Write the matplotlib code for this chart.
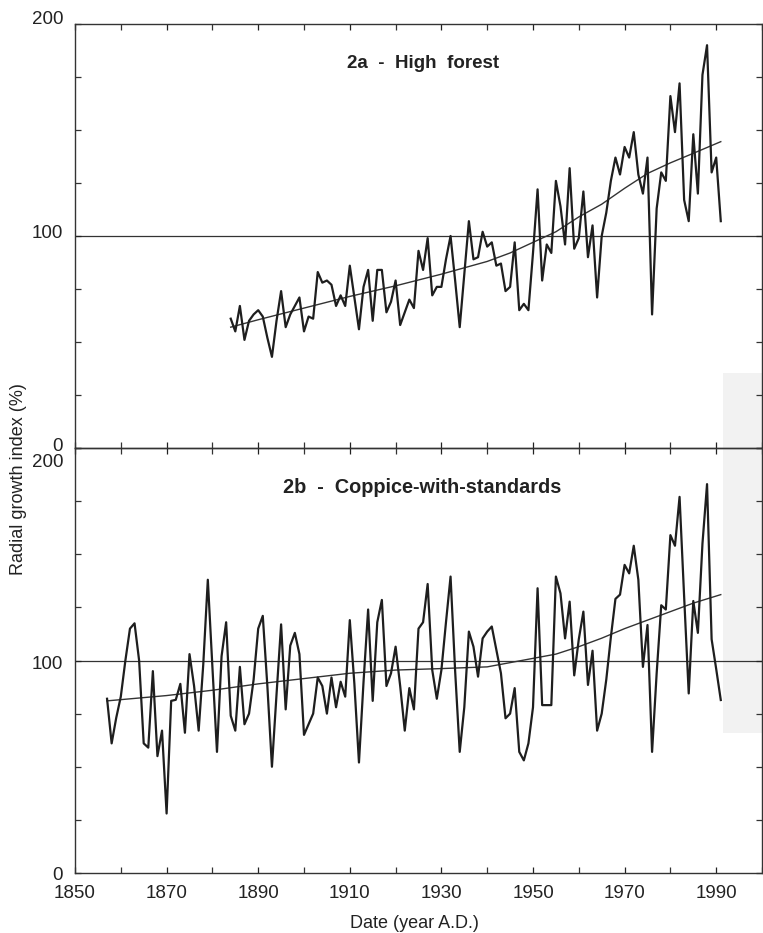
import matplotlib
matplotlib.use("Agg")
import matplotlib.pyplot as plt
from matplotlib.ticker import MultipleLocator, FixedLocator
from matplotlib.transforms import ScaledTranslation
from matplotlib.patches import Rectangle

plt.rcParams['font.family'] = ['Liberation Sans', 'DejaVu Sans']

# ---- Data: 2a High forest ----
hf_start = 1884
hf_values = [61, 55, 67, 51, 60, 63, 65, 62, 52, 43,
             60, 74, 57, 63, 67, 71, 55, 62, 61, 83,
             78, 79, 77, 67, 72, 67, 86, 71, 56, 76,
             84, 60, 84, 84, 64, 69, 79, 58, 64, 70,
             66, 93, 84, 99, 72, 76, 76, 89, 100, 79,
             57, 82, 107, 89, 90, 102, 95, 97, 86, 87,
             74, 76, 97, 65, 68, 65, 92, 122, 79, 96,
             92, 126, 114, 96, 132, 94, 99, 121, 90, 105,
             71, 100, 111, 126, 137, 129, 142, 137, 149, 129,
             120, 137, 63, 113, 130, 126, 166, 149, 172, 117,
             107, 148, 120, 176, 190, 130, 137, 107]
hf_years = list(range(hf_start, hf_start + len(hf_values)))
hf_trend_years = [1884, 1890, 1900, 1910, 1920, 1930, 1940, 1945, 1950,
                  1955, 1960, 1965, 1970, 1975, 1980, 1985, 1991]
hf_trend_values = [57, 60.5, 66, 71.5, 76.5, 82, 88, 92, 97,
                   102, 109, 115, 122.5, 129.5, 134.5, 139, 144.5]

# ---- Data: 2b Coppice-with-standards ----
cs_start = 1857
cs_values = [82, 61, 73, 83, 100, 115, 117.5, 100, 61, 59,
             95, 55, 67, 28, 81, 81.5, 89, 66, 103, 88,
             67, 98, 138, 97, 57, 102, 118, 74, 67, 97,
             70, 75, 91, 115, 121, 88, 50, 84, 117, 77,
             107, 113, 103, 65, 70, 75, 92, 88, 75, 92,
             78, 90, 83, 119, 89, 52, 90, 124, 81, 118,
             128.5, 88, 94, 106.5, 88, 67, 87, 77, 115, 118,
             136, 95.5, 82, 95.5, 118, 139.5, 95, 57, 78, 113.6,
             106.5, 92.4, 110.4, 113.6, 116, 105, 94, 72.8, 75, 87,
             57, 53, 61, 78, 134, 79, 79, 79, 139.5, 131.6,
             110.4, 127.7, 93, 110, 123, 88.5, 104.6, 67, 75, 91,
             111, 129, 131, 145, 141, 154, 138, 97, 116.7, 57,
             94, 126, 124, 159, 154, 177, 130, 84.5, 128, 113,
             155, 183, 110, 96, 81.4]
cs_years = list(range(cs_start, cs_start + len(cs_values)))
cs_trend_years = [1857, 1870, 1880, 1890, 1900, 1910, 1920, 1930, 1940,
                  1945, 1950, 1955, 1960, 1965, 1970, 1975, 1980, 1985, 1991]
cs_trend_values = [81, 83.5, 86, 89, 91.5, 94, 95.5, 96.2, 97,
                   99, 101, 103, 106.5, 110.5, 115, 119, 123, 127, 131]

x_major = list(range(1850, 1991, 20))
y_labels = [0, 100, 200]

W, H = 763, 933
fig = plt.figure(figsize=(W / 100, H / 100), dpi=100)

# faint gray scan patch at the right edge
fig.patches.append(Rectangle((723 / W, 1 - 733 / H), 40 / W, 360 / H,
                             transform=fig.transFigure, facecolor='#f2f2f2',
                             edgecolor='none', zorder=-5))

left = 75 / W
width = 687 / W
ax1 = fig.add_axes([left, 1 - 448 / H, width, 424 / H])
ax2 = fig.add_axes([left, 1 - 873 / H, width, 425 / H])

ink = '#1e1e1e'
for ax in (ax1, ax2):
    ax.set_facecolor('none')
    ax.set_xlim(1850, 2000)
    ax.set_ylim(0, 200)
    ax.axhline(100, color='#333333', lw=0.9, zorder=1)
    ax.xaxis.set_major_locator(FixedLocator(x_major))
    ax.xaxis.set_minor_locator(MultipleLocator(10))
    ax.yaxis.set_major_locator(FixedLocator(y_labels))
    ax.yaxis.set_minor_locator(MultipleLocator(25))
    ax.tick_params(which='both', direction='in', top=True, right=True,
                   length=4, width=0.9, color='#333333')
    ax.tick_params(axis='y', labelsize=13.5, pad=8.5, colors='#222222')
    ax.tick_params(axis='x', labelsize=13.5, pad=8.5, colors='#222222')
    for s in ax.spines.values():
        s.set_color('#333333')
        s.set_linewidth(1.0)

ax1.tick_params(axis='x', labelbottom=False)

ax1.plot(hf_years, hf_values, color=ink, lw=1.6, zorder=3)
ax1.plot(hf_trend_years, hf_trend_values, color='#333333', lw=1.0, zorder=2)
ax2.plot(cs_years, cs_values, color=ink, lw=1.6, zorder=3)
ax2.plot(cs_trend_years, cs_trend_values, color='#333333', lw=1.0, zorder=2)

ax1.text(0.5066, 0.908, '2a  -  High  forest', transform=ax1.transAxes,
         ha='center', va='center', fontsize=13.5, fontweight='bold', color='#222222')
ax2.text(0.505, 0.906, '2b  -  Coppice-with-standards', transform=ax2.transAxes,
         ha='center', va='center', fontsize=14.3, fontweight='bold', color='#222222')

# nudge y tick labels like the scanned original
offsets1 = {0: 3, 100: 5, 200: 6}
offsets2 = {0: 0, 100: -2, 200: -13}
fig.canvas.draw()
for ax, offs in ((ax1, offsets1), (ax2, offsets2)):
    for val, lab in zip(ax.get_yticks(), ax.get_yticklabels()):
        dy = offs.get(int(round(val)), 0) / 100.0
        lab.set_transform(lab.get_transform() + ScaledTranslation(0, dy, fig.dpi_scale_trans))

fig.text(18.5 / W, 1 - 479 / H, 'Radial growth index (%)', rotation=90,
         ha='center', va='center', fontsize=13, color='#222222')
fig.text(414 / W, 1 - 923 / H, 'Date (year A.D.)', ha='center', va='center',
         fontsize=13, color='#222222')

fig.savefig('out.png', dpi=100)
